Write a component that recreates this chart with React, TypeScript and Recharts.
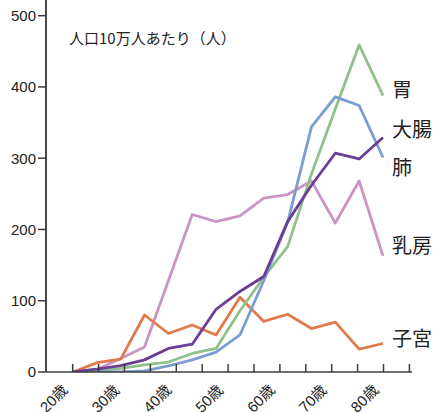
import React from "react";
import { LineChart, Line, XAxis, YAxis, ReferenceLine } from "recharts";

// age groups (5-year steps), plotted evenly between the 20歳 and 80歳 ticks
const ageGroups = [
  "20-24", "25-29", "30-34", "35-39", "40-44", "45-49", "50-54",
  "55-59", "60-64", "65-69", "70-74", "75-79", "80-84", "85-",
];

// 人口10万人あたり
const stomach = [0, 2, 5, 10, 14, 26, 33, 86, 133, 176, 278, 369, 459, 388];
const colon = [0, 4, 9, 17, 33, 39, 88, 113, 134, 211, 262, 307, 299, 329];
const lung = [0, 0, 0, 1.5, 8.6, 17, 28, 52, 128, 210, 344, 386, 374, 301];
const breast = [0, 3.5, 19, 35, 128, 221, 211, 219, 244, 249, 268, 209, 268, 163];
const uterus = [0, 13, 18, 80, 54, 66, 52, 105, 71, 81, 61, 70, 32, 40];

const ageTicks = [20, 25, 30, 35, 40, 45, 50, 55, 60, 65, 70, 75, 80, 85];
const yTicks = [0, 100, 200, 300, 400, 500];
const ageDomain = [14.85, 85.5];

const rows = ageGroups.map((age, i) => ({
  age,
  stomach: stomach[i],
  colon: colon[i],
  lung: lung[i],
  breast: breast[i],
  uterus: uterus[i],
}));

// invisible carrier so the tick axis gets a scale
const tickRows = ageTicks.map((t) => ({ t, v: 0 }));

const series = [
  { key: "breast", name: "乳房", color: "#cc93c5", dy: -11 },
  { key: "uterus", name: "子宮", color: "#e07a4c", dy: -6 },
  { key: "stomach", name: "胃", color: "#8fc18b", dy: -7 },
  { key: "lung", name: "肺", color: "#7b9dd0", dy: 9 },
  { key: "colon", name: "大腸", color: "#6c3d95", dy: -9 },
];

const cjk = "'Noto Sans CJK JP', sans-serif";
const latin = "'Liberation Sans', 'Noto Sans CJK JP', sans-serif";
const axisColor = "#3c3c3c";
const axisStyle = { stroke: axisColor, strokeWidth: 1.5 };

const endLabel = (name: string, dy: number) => (props: any) => {
  const { x, y, index } = props;
  if (index !== rows.length - 1) return null;
  return (
    <text
      x={x + 9}
      y={y + dy}
      dominantBaseline="central"
      fontSize={20}
      fontFamily={cjk}
      fill="#222"
    >
      {name}
    </text>
  );
};

const AgeTick = (props: any) => {
  const { x, y, payload } = props;
  if (payload.value % 10 !== 0) return null;
  const px = x - 4;
  const py = y + 8 + 19;
  return (
    <text
      x={px}
      y={py}
      transform={`rotate(-45 ${px} ${py})`}
      textAnchor="end"
      fontSize={15}
      fontFamily={latin}
      fill="#222"
    >
      {payload.value}歳
    </text>
  );
};

export default function App() {
  return (
    <div style={{ position: "absolute", left: 0, top: 0, width: 434, height: 412 }}>
      <LineChart
        width={434}
        height={412}
        data={rows}
        margin={{ top: 0, right: 22, bottom: 0, left: 0 }}
      >
        <XAxis
          xAxisId="ticks"
          dataKey="t"
          type="number"
          domain={ageDomain}
          allowDataOverflow
          ticks={ageTicks}
          interval={0}
          height={40}
          tickSize={-8}
          tickMargin={0}
          axisLine={axisStyle}
          tickLine={axisStyle}
          tick={<AgeTick />}
        />
        <XAxis dataKey="age" type="category" hide height={0} padding={{ left: 27, right: 29 }} />
        <YAxis
          type="number"
          domain={[0, 522]}
          ticks={yTicks}
          allowDataOverflow
          width={46}
          tickSize={8}
          tickMargin={2}
          axisLine={axisStyle}
          tickLine={axisStyle}
          tick={{ fontSize: 15, fontFamily: latin, fill: "#222" }}
        />
        <ReferenceLine
          xAxisId="ticks"
          x={ageDomain[0]}
          stroke={axisColor}
          strokeWidth={1.5}
          ifOverflow="visible"
        />
        <Line
          xAxisId="ticks"
          data={tickRows}
          dataKey="v"
          stroke="none"
          dot={false}
          activeDot={false}
          legendType="none"
          isAnimationActive={false}
        />
        {series.map((s) => (
          <Line
            key={s.key}
            dataKey={s.key}
            name={s.name}
            stroke={s.color}
            strokeWidth={2.8}
            dot={false}
            activeDot={false}
            isAnimationActive={false}
            strokeLinejoin="round"
            label={endLabel(s.name, s.dy)}
          />
        ))}
      </LineChart>
      <div
        style={{
          position: "absolute",
          left: 69,
          top: 31,
          fontSize: 15,
          lineHeight: "14px",
          fontFamily: cjk,
          color: "#222",
          whiteSpace: "nowrap",
        }}
      >
        人口10万人あたり（人）
      </div>
    </div>
  );
}
